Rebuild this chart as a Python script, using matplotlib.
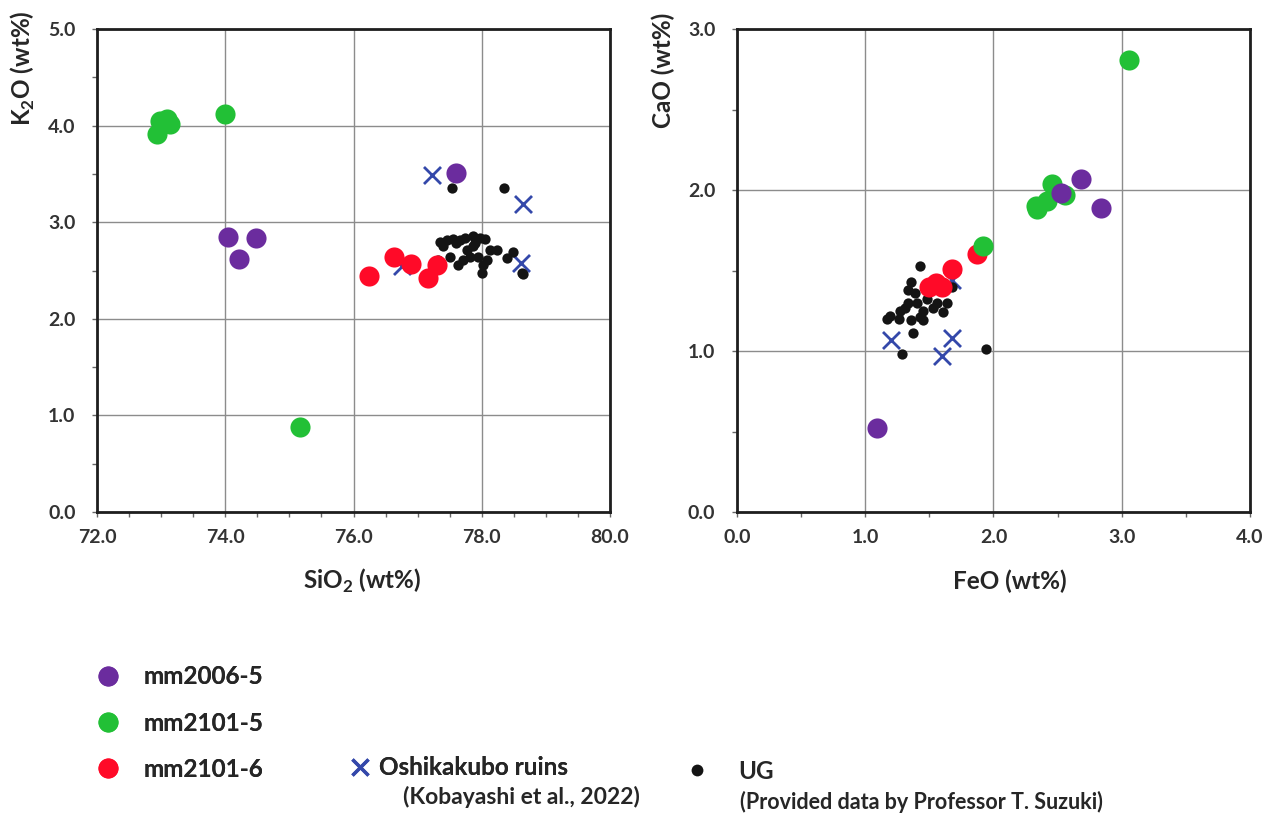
import matplotlib
matplotlib.use("Agg")
from matplotlib import pyplot as plt
from matplotlib.lines import Line2D
from matplotlib.ticker import MultipleLocator

plt.rcParams['font.family'] = ['Lato', 'DejaVu Sans']
plt.rcParams['font.weight'] = 'bold'
plt.rcParams['mathtext.fontset'] = 'custom'
plt.rcParams['mathtext.rm'] = 'Lato:bold'
plt.rcParams['mathtext.bf'] = 'Lato:bold'

# left panel: SiO2 vs K2O
mm2006_sio2 = [77.60, 74.04, 74.48, 74.22]
mm2006_k2o = [3.51, 2.85, 2.84, 2.62]
mm2101_5_sio2 = [72.94, 72.98, 73.09, 73.14, 74.00, 75.17]
mm2101_5_k2o = [3.91, 4.05, 4.07, 4.02, 4.12, 0.88]
mm2101_6_sio2 = [76.24, 76.63, 76.90, 77.16, 77.30]
mm2101_6_k2o = [2.44, 2.64, 2.57, 2.42, 2.56]
oshi_sio2 = [77.23, 78.65, 78.61, 76.75]
oshi_k2o = [3.49, 3.19, 2.58, 2.55]
ug_sio2 = [77.54, 78.35, 78.65, 77.35, 77.46, 77.55, 77.66, 77.74, 77.87, 77.98,
           78.05, 77.40, 77.51, 77.63, 77.77, 77.87, 77.94, 78.00, 78.13, 78.24,
           78.40, 78.49, 78.63, 77.32, 77.82, 77.71, 78.08, 78.02, 77.60, 77.90]
ug_k2o = [3.35, 3.35, 2.46, 2.80, 2.82, 2.83, 2.82, 2.84, 2.86, 2.84,
          2.83, 2.75, 2.64, 2.56, 2.71, 2.75, 2.64, 2.47, 2.71, 2.71,
          2.63, 2.69, 2.47, 2.61, 2.64, 2.61, 2.61, 2.56, 2.78, 2.78]

# right panel: FeO vs CaO
mm2006_feo = [1.09, 2.53, 2.68, 2.84]
mm2006_cao = [0.52, 1.98, 2.07, 1.89]
mm2101_5_feo = [3.06, 1.92, 2.33, 2.34, 2.42, 2.46, 2.56]
mm2101_5_cao = [2.81, 1.65, 1.90, 1.88, 1.93, 2.04, 1.97]
mm2101_6_feo = [1.87, 1.68, 1.50, 1.55, 1.60]
mm2101_6_cao = [1.60, 1.51, 1.40, 1.42, 1.40]
oshi_feo = [1.20, 1.60, 1.68, 1.68]
oshi_cao = [1.07, 0.97, 1.08, 1.44]
ug_feo = [1.43, 1.36, 1.33, 1.39, 1.33, 1.40, 1.48, 1.56, 1.64, 1.61,
          1.53, 1.45, 1.27, 1.19, 1.17, 1.26, 1.36, 1.43, 1.37, 1.29,
          1.94, 1.68, 1.31, 1.49, 1.45]
ug_cao = [1.53, 1.43, 1.38, 1.36, 1.30, 1.30, 1.32, 1.30, 1.30, 1.24,
          1.27, 1.25, 1.25, 1.22, 1.20, 1.20, 1.19, 1.21, 1.11, 0.98,
          1.01, 1.40, 1.27, 1.38, 1.19]

c_purple = '#6B2C9E'
c_green = '#22C036'
c_red = '#FF0A28'
c_blue = '#3448AA'
c_black = '#141414'
tick_color = '#333333'
text_color = '#262626'

fig = plt.figure(figsize=(12.7, 8.17), dpi=100)
ax1 = fig.add_axes([0.0764, 0.3733, 0.4039, 0.5912])
ax2 = fig.add_axes([0.5803, 0.3733, 0.4039, 0.5912])

BIG = 210
DOT = 55


def draw(ax, p, g, r, o, u):
    ax.scatter(*o, marker='x', s=150, color=c_blue, linewidths=2, zorder=3)
    ax.scatter(*u, s=DOT, color=c_black, linewidths=0, zorder=4)
    ax.scatter(*r, s=BIG, color=c_red, linewidths=0, zorder=5)
    ax.scatter(*g, s=BIG, color=c_green, linewidths=0, zorder=6)
    ax.scatter(*p, s=BIG, color=c_purple, linewidths=0, zorder=7)
    ax.grid(True, which='major', color='#8c8c8c', linewidth=1)
    ax.set_axisbelow(True)
    for s in ax.spines.values():
        s.set_linewidth(2)
        s.set_color('#1e1e1e')
    ax.xaxis.set_minor_locator(MultipleLocator(0.5))
    ax.yaxis.set_minor_locator(MultipleLocator(0.5))
    ax.tick_params(which='both', direction='out', length=3.5, width=1, color='#666666')
    ax.tick_params(axis='x', which='major', pad=9, labelsize=14, labelcolor=tick_color)
    ax.tick_params(axis='y', which='major', pad=12, labelsize=14, labelcolor=tick_color)


draw(ax1, (mm2006_sio2, mm2006_k2o), (mm2101_5_sio2, mm2101_5_k2o),
     (mm2101_6_sio2, mm2101_6_k2o), (oshi_sio2, oshi_k2o), (ug_sio2, ug_k2o))
draw(ax2, (mm2006_feo, mm2006_cao), (mm2101_5_feo, mm2101_5_cao),
     (mm2101_6_feo, mm2101_6_cao), (oshi_feo, oshi_cao), (ug_feo, ug_cao))

ax1.set_xlim(72, 80)
ax1.set_ylim(0, 5)
ax1.set_xticks([72, 74, 76, 78, 80])
ax1.set_yticks([0, 1, 2, 3, 4, 5])
ax1.set_xticklabels(['72.0', '74.0', '76.0', '78.0', '80.0'])
ax1.set_yticklabels(['0.0', '1.0', '2.0', '3.0', '4.0', '5.0'])

ax2.set_xlim(0, 4)
ax2.set_ylim(0, 3)
ax2.set_xticks([0, 1, 2, 3, 4])
ax2.set_yticks([0, 1, 2, 3])
ax2.set_xticklabels(['0.0', '1.0', '2.0', '3.0', '4.0'])
ax2.set_yticklabels(['0.0', '1.0', '2.0', '3.0'])

lab = dict(fontsize=17.5, fontweight='bold', color=text_color)
ax1.set_xlabel(r'SiO$_{2}$ (wt%)', va='center', **lab)
ax1.xaxis.set_label_coords(0.517, -0.143)
ax2.set_xlabel('FeO (wt%)', va='center', **lab)
ax2.xaxis.set_label_coords(0.532, -0.143)
ax1.set_ylabel(r'K$_{2}$O (wt%)', ha='left', va='bottom', **lab)
ax1.yaxis.set_label_coords(-0.117, 0.80)
ax2.set_ylabel('CaO (wt%)', ha='left', va='bottom', **lab)
ax2.yaxis.set_label_coords(-0.121, 0.795)

# legend
leg_font = dict(size=17.5, weight='bold')
h1 = [Line2D([], [], marker='o', ls='', color=c, markersize=14.4, markeredgewidth=0)
      for c in (c_purple, c_green, c_red)]
leg1 = fig.legend(h1, ['mm2006-5', 'mm2101-5', 'mm2101-6'], loc='center left',
                  bbox_to_anchor=(0.0757, 0.115), frameon=False, prop=leg_font,
                  handlelength=1.0, handletextpad=0.95, labelspacing=0.95,
                  borderpad=0, borderaxespad=0, labelcolor=text_color)
fig.add_artist(leg1)
h2 = [Line2D([], [], marker='x', ls='', color=c_blue, markersize=12, markeredgewidth=2.4)]
leg2 = fig.legend(h2, ['Oshikakubo ruins'], loc='center left',
                  bbox_to_anchor=(0.2770, 0.060), frameon=False, prop=leg_font,
                  handlelength=0.7, handletextpad=0.4, borderpad=0, borderaxespad=0,
                  labelcolor=text_color)
fig.add_artist(leg2)
h3 = [Line2D([], [], marker='o', ls='', color=c_black, markersize=8.5, markeredgewidth=0)]
leg3 = fig.legend(h3, ['UG'], loc='center left',
                  bbox_to_anchor=(0.5394, 0.0563), frameon=False, prop=leg_font,
                  handlelength=1.0, handletextpad=1.2, borderpad=0, borderaxespad=0,
                  labelcolor=text_color)
fig.text(0.3173, 0.0245, '(Kobayashi et al., 2022)', fontsize=16.5, fontweight='bold',
         color=text_color, va='center')
fig.text(0.5827, 0.0184, '(Provided data by Professor T. Suzuki)', fontsize=15.5,
         fontweight='bold', color=text_color, va='center')

fig.savefig('out.png', dpi=100)
